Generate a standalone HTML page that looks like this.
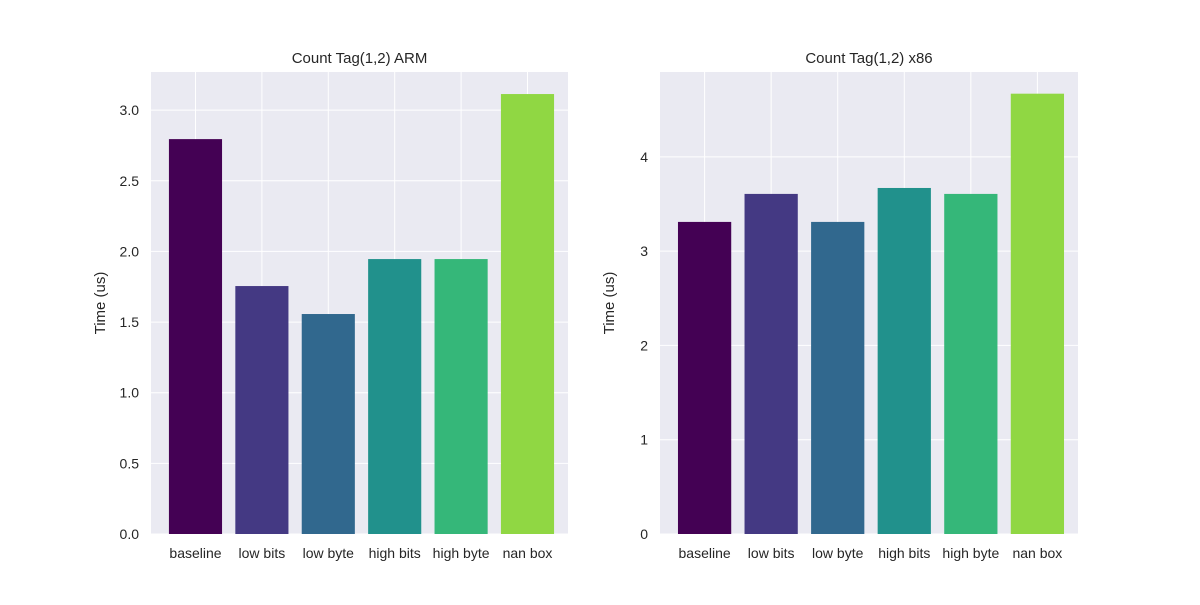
<!DOCTYPE html>
<html><head><meta charset="utf-8"><style>
body{margin:0;background:#fff;font-family:"Liberation Sans",sans-serif}
</style></head><body>
<svg id="chart" width="1200" height="600" xmlns="http://www.w3.org/2000/svg"></svg>
<script>
const categories=["baseline","low bits","low byte","high bits","high byte","nan box"];
const armValues=[2.795,1.755,1.557,1.946,1.946,3.114];
const x86Values=[3.31,3.607,3.31,3.67,3.607,4.67];
const armTicks=[0,0.5,1,1.5,2,2.5,3];
const armTickLabels=["0.0","0.5","1.0","1.5","2.0","2.5","3.0"];
const x86Ticks=[0,1,2,3,4];
const x86TickLabels=["0","1","2","3","4"];
const colors=["#440154","#443983","#31688e","#21918c","#35b779","#90d743"];
const NS="http://www.w3.org/2000/svg";
const svg=document.getElementById('chart');
function mk(tag,attrs,parent){const e=document.createElementNS(NS,tag);for(const k in attrs)e.setAttribute(k,attrs[k]);(parent||svg).appendChild(e);return e;}
function panel(name,x0,x1,y0,y1,ymax,vals,ticks,labels,title){
  const g=mk('g',{});
  
  
  const bg=mk('rect',{x:x0,y:y0,width:x1-x0,height:y1-y0,fill:'#eaeaf2'},g);
  
  
  const ys=v=>y1-(v/ymax)*(y1-y0);
  const xmin=-0.67,xmax=5.61;
  const xs=i=>x0+(i-xmin)/(xmax-xmin)*(x1-x0);
  const bw=0.8*(x1-x0)/(xmax-xmin);
  ticks.forEach((t,i)=>{
    const l=mk('line',{x1:x0,x2:x1,y1:ys(t),y2:ys(t),stroke:'#fff','stroke-width':1},g);
    
    
    const tx=mk('text',{x:x0-12,y:ys(t)+5,'text-anchor':'end','font-size':14,fill:'#262626'},g);
    tx.textContent=labels[i];
    
    
  });
  categories.forEach((c,i)=>{
    const l=mk('line',{x1:xs(i),x2:xs(i),y1:y0,y2:y1,stroke:'#fff','stroke-width':1},g);
    
    
  });
  vals.forEach((v,i)=>{
    const r=mk('rect',{x:xs(i)-bw/2,y:ys(v),width:bw,height:y1-ys(v),fill:colors[i]},g);
    
    
    const tx=mk('text',{x:xs(i),y:y1+24,'text-anchor':'middle','font-size':14,fill:'#262626'},g);
    tx.textContent=categories[i];
    
    
  });
  const t=mk('text',{x:(x0+x1)/2,y:y0-9,'text-anchor':'middle','font-size':15,fill:'#262626'},g);
  t.textContent=title;
  
  
  const yt=mk('text',{x:0,y:0,'text-anchor':'middle','font-size':15,fill:'#262626',transform:`translate(${x0-46},${(y0+y1)/2}) rotate(-90)`},g);
  yt.textContent='Time (us)';
  
  
}
panel('arm',151,568,72,534,3.27,armValues,armTicks,armTickLabels,'Count Tag(1,2) ARM');
panel('x86',660,1078,72,534,4.9,x86Values,x86Ticks,x86TickLabels,'Count Tag(1,2) x86');
</script>
</body></html>
